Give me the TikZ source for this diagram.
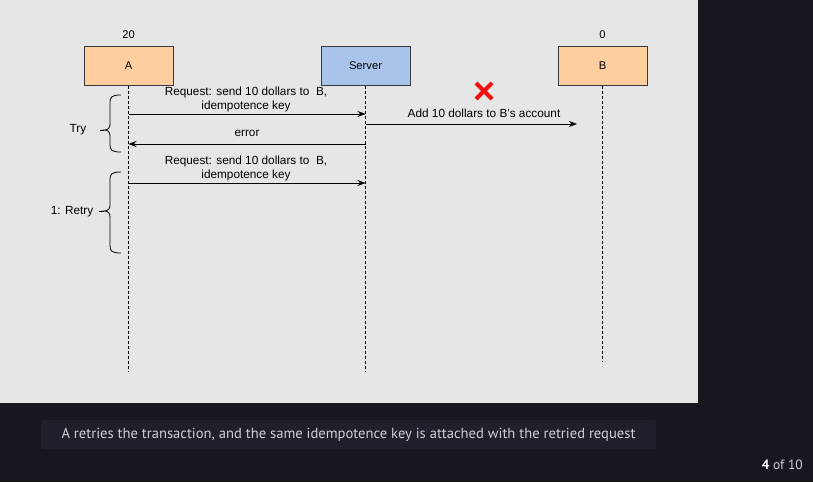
\documentclass[tikz,border=0pt]{standalone}
\usepackage{fontspec}
\setmainfont{Liberation Sans}
\newfontfamily\capfont{PT Sans}
\usetikzlibrary{arrows.meta}
\definecolor{bgdark}{RGB}{22,23,31}
\definecolor{capbox}{RGB}{31,32,41}
\definecolor{canvas}{RGB}{230,230,230}
\definecolor{peach}{RGB}{255,206,159}
\definecolor{skyb}{RGB}{169,196,235}
\definecolor{boxline}{RGB}{54,57,61}
\definecolor{xred}{RGB}{240,16,16}
\tikzset{
  actor/.style={draw=boxline, line width=1pt, minimum width=89pt, minimum height=39pt, inner sep=0pt, font=\fontsize{11.2}{13}\selectfont},
  lifeline/.style={draw=black, dashed, dash pattern=on 3pt off 2pt, line width=0.8pt},
  msg/.style={draw=black, line width=0.8pt, -{Stealth[length=8pt,width=6pt]}},
  lbl/.style={font=\fontsize{11.8}{13.5}\selectfont, align=center, inner sep=0pt, text=black},
  brace/.style={draw=black, line width=0.8pt},
}
\begin{document}
\begin{tikzpicture}[x=1pt,y=-1pt]
\useasboundingbox (0,0) rectangle (813,482);
\fill[bgdark] (0,0) rectangle (813,482);
\fill[canvas] (0,0) rectangle (698,403);
% actors
\node[actor, fill=peach] (A) at (128.5,65.5) {A};
\node[actor, fill=skyb] (S) at (365.5,65.5) {Server};
\node[actor, fill=peach] (B) at (602.5,65.5) {B};
\node[lbl, font=\fontsize{11.2}{13}\selectfont] (nA) at (128.5,35) {20};
\node[lbl, font=\fontsize{11.2}{13}\selectfont] (nB) at (602.5,35) {0};
% lifeline ends
\coordinate (Aend) at (128.5,371);
\coordinate (Send) at (365.5,371);
\coordinate (Bend) at (602.5,362);
\draw[lifeline] (A.south) -- (Aend);
\draw[lifeline] (S.south) -- (Send);
\draw[lifeline] (B.south) -- (Bend);
% message points
\coordinate (a1) at (128.5,114); \coordinate (s1) at (365.5,114);
\coordinate (s2) at (365.5,124); \coordinate (b2) at (577,124);
\coordinate (s3) at (365.5,144); \coordinate (a3) at (128.5,144);
\coordinate (a4) at (128.5,183); \coordinate (s4) at (365.5,183);
\draw[msg] (a1) -- (s1);
\draw[msg] (s2) -- (b2);
\draw[msg] (s3) -- (a3);
\draw[msg] (a4) -- (s4);
\node[lbl] (l1) at (246,99.5) {Request: send 10 dollars to\ \ B,\\idempotence key};
\node[lbl] (l2) at (484,113.5) {Add 10 dollars to B's account};
\node[lbl] (l3) at (247,133.5) {error};
\node[lbl] (l4) at (246,168.5) {Request: send 10 dollars to\ \ B,\\idempotence key};
% red cross
\node (X) at (484,91) {};
\draw[xred, line width=4pt] (476,83) -- (492,99);
\draw[xred, line width=4pt] (492,83) -- (476,99);
% braces
\draw[brace] (121,95) .. controls (111,95) and (110,97) .. (110,104) -- (110,124)
  .. controls (110,128) and (108,130) .. (104,130)
  .. controls (108,130) and (110,132) .. (110,136) -- (110,144)
  .. controls (110,150) and (111,152) .. (121,152);
\draw[brace] (100,130) -- (104,130);
\node[lbl] (try) at (78,130) {Try};
\draw[brace] (121,172) .. controls (111,172) and (110,174) .. (110,181) -- (110,205)
  .. controls (110,209) and (108,211) .. (104,211)
  .. controls (108,211) and (110,213) .. (110,217) -- (110,245)
  .. controls (110,251) and (111,253) .. (121,253);
\draw[brace] (99,211) -- (104,211);
\node[lbl] (retry) at (72,212) {1: Retry};
% caption
\fill[capbox, rounded corners=2pt] (41,420) rectangle (656,449);
\node[font=\capfont\fontsize{14.6}{17}\selectfont, text={rgb,255:red,208;green,208;blue,212}, inner sep=0pt] (cap) at (348.5,434.5) {A retries the transaction, and the same idempotence key is attached with the retried request};
\node[font=\capfont\fontsize{13.5}{16}\selectfont, text={rgb,255:red,208;green,208;blue,212}, inner sep=0pt, anchor=east] (pg) at (803,465) {\textcolor{white}{\bfseries 4} of 10};
\end{tikzpicture}
\end{document}
